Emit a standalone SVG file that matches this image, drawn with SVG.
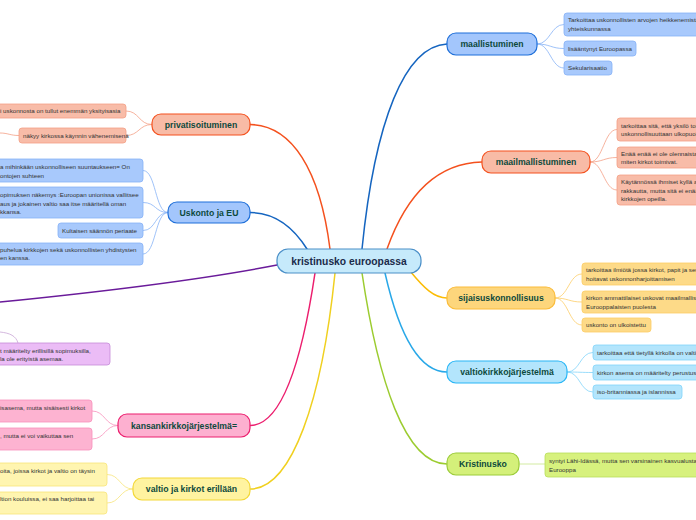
<svg xmlns="http://www.w3.org/2000/svg" width="696" height="520" viewBox="0 0 696 520">
<style>
.t{font-family:"Liberation Sans",Arial,sans-serif;font-size:6.2px;fill:#333}
.n{font-family:"Liberation Sans",Arial,sans-serif;font-size:8.7px;font-weight:bold;fill:#0d4a3c;text-anchor:middle}
.c{font-family:"Liberation Sans",Arial,sans-serif;font-size:10.3px;font-weight:bold;fill:#1a2b4a;text-anchor:middle}
.main{fill:none;stroke-width:1.5;stroke-linecap:round}
.sub{fill:none;stroke-width:0.8}
.blue{fill:#a3c6fc;stroke:#1e6fd9;stroke-width:1.2}
.blueC{fill:#a8c9fc;stroke:#86b2f6;stroke-width:0.8}
.sal{fill:#f8bba6;stroke:#f4511e;stroke-width:1.2}
.salC{fill:#f8bca8;stroke:#f4a085;stroke-width:0.8}
.yel{fill:#fdd67c;stroke:#fbbc3a;stroke-width:1.2}
.yelC{fill:#fdda88;stroke:#fccd66;stroke-width:0.8}
.cy{fill:#b3e5fc;stroke:#29b6f6;stroke-width:1.2}
.cyC{fill:#b3e5fc;stroke:#81d4fa;stroke-width:0.8}
.gr{fill:#d4f07a;stroke:#9ccc3a;stroke-width:1.2}
.grC{fill:#d7f17e;stroke:#b8de5a;stroke-width:0.8}
.pu{fill:#ebbcf6;stroke:#c58ad8;stroke-width:0.8}
.pk{fill:#fdb0d0;stroke:#ec1e6e;stroke-width:1.2}
.pkC{fill:#fdb3d1;stroke:#f790bb;stroke-width:0.8}
.ly{fill:#fff3a0;stroke:#f3d838;stroke-width:1.2}
.lyC{fill:#fff5b0;stroke:#f8e57a;stroke-width:0.8}
</style>
<rect width="696" height="520" fill="#ffffff"/>
<g id="connectors">
<path class="main" stroke="#1565c0" d="M362,249 C375,120 405,46 447,44"/>
<path class="main" stroke="#f4511e" d="M387,249 C408,190 440,163 482,162"/>
<path class="main" stroke="#fbbc05" d="M410,271 C424,288 434,298 447,298"/>
<path class="main" stroke="#29a8e8" d="M385,273 C398,330 418,372 447,372"/>
<path class="main" stroke="#9ccc30" d="M362,273 C378,380 405,464 447,464"/>
<path class="main" stroke="#f4511e" d="M330,249 C320,170 292,125 250,124.5"/>
<path class="main" stroke="#1565c0" d="M307,249 C292,225 272,212.5 250,212.5"/>
<path class="main" stroke="#6a1b9a" d="M277,265 C200,280 100,292 0,302"/>
<path class="main" stroke="#ec1e6e" d="M315,273 C302,360 282,425.5 250,425.5"/>
<path class="main" stroke="#f0d020" d="M335,273 C322,400 292,489 250,489"/>
<g stroke="#86b2f6" class="sub">
<path d="M537,44 C550,44 551,24.5 564,24.5"/>
<path d="M537,44 C550,44 551,48.5 564,48.5"/>
<path d="M537,44 C550,44 551,68 564,68"/>
<path d="M168,212.5 C155,212.5 156,170.5 143,170.5"/>
<path d="M168,212.5 C155,212.5 156,202.5 143,202.5"/>
<path d="M168,212.5 C155,212.5 156,230.5 143,230.5"/>
<path d="M168,212.5 C155,212.5 156,254 143,254"/>
</g>
<g stroke="#f4a085" class="sub">
<path d="M590,162 C603,162 604,129.5 617,129.5"/>
<path d="M590,162 C603,162 604,157.5 617,157.5"/>
<path d="M590,162 C603,162 604,190 617,190"/>
<path d="M152,124.5 C139,124.5 139,111 126,111"/>
<path d="M152,124.5 C139,124.5 139,135.5 126,135.5"/>
<path d="M19,135.5 C10,135.5 8,133 0,133"/>
</g>
<g stroke="#fccd66" class="sub">
<path d="M555,298 C568,298 569,274 582,274"/>
<path d="M555,298 C568,298 569,302 582,302"/>
<path d="M555,298 C568,298 569,325 582,325"/>
</g>
<g stroke="#81d4fa" class="sub">
<path d="M567,372 C580,372 580,352.5 593,352.5"/>
<path d="M567,372 C580,372 580,372.5 593,372.5"/>
<path d="M567,372 C580,372 580,392 593,392"/>
</g>
<path class="sub" stroke="#c8e68a" d="M519,464 L545,464"/>
<path class="sub" stroke="#c9a6d6" d="M0,332 C10,333 16,336 18,343"/>
<g stroke="#f790bb" class="sub">
<path d="M118,425.5 C105,425.5 105,411 92,411"/>
<path d="M118,425.5 C105,425.5 105,439 92,439"/>
</g>
<g stroke="#f8e57a" class="sub">
<path d="M133,489 C120,489 120,474.5 107,474.5"/>
<path d="M133,489 C120,489 120,503 107,503"/>
</g>
</g>
<g id="center">
<rect x="277" y="249" width="144" height="24" rx="11" fill="#c6eafb" stroke="#4a8fc8" stroke-width="1.2"/>
<text class="c" x="349" y="264.5">kristinusko euroopassa</text>
</g>
<g id="maallistuminen">
<rect class="blue" x="447" y="33" width="90" height="22" rx="9"/>
<text class="n" x="492" y="47">maallistuminen</text>
</g>
<g id="maallistuminen-1">
<rect class="blueC" x="564" y="13" width="200" height="23" rx="3"/>
<text class="t" x="568" y="22">Tarkoittaa uskonnollisten arvojen heikkenemistä</text>
<text class="t" x="568" y="31">yhteiskunnassa</text>
</g>
<g id="maallistuminen-2">
<rect class="blueC" x="564" y="41" width="72" height="15" rx="3"/>
<text class="t" x="568" y="50.8">lisääntynyt Euroopassa</text>
</g>
<g id="maallistuminen-3">
<rect class="blueC" x="564" y="61" width="48" height="14" rx="3"/>
<text class="t" x="568" y="70.3">Sekularisaatio</text>
</g>
<g id="maailmallistuminen">
<rect class="sal" x="482" y="151" width="108" height="22" rx="9"/>
<text class="n" x="536" y="165">maailmallistuminen</text>
</g>
<g id="maailmallistuminen-1">
<rect class="salC" x="617" y="118" width="200" height="23" rx="3"/>
<text class="t" x="621" y="127.5">tarkoittaa sitä, että yksilö toteuttaa</text>
<text class="t" x="621" y="136">uskonnollisuuttaan ulkopuolella</text>
</g>
<g id="maailmallistuminen-2">
<rect class="salC" x="617" y="147" width="200" height="21" rx="3"/>
<text class="t" x="621" y="155.5">Enää enää ei ole olennaista</text>
<text class="t" x="621" y="164">miten kirkot toimivat.</text>
</g>
<g id="maailmallistuminen-3">
<rect class="salC" x="617" y="175" width="200" height="30" rx="3"/>
<text class="t" x="621" y="184">Käytännössä ihmiset kyllä arvostavat</text>
<text class="t" x="621" y="192.5">rakkautta, mutta sitä ei enää</text>
<text class="t" x="621" y="201">kirkkojen opeilla.</text>
</g>
<g id="sijaisuskonnollisuus">
<rect class="yel" x="447" y="287" width="108" height="22" rx="9"/>
<text class="n" x="501" y="301">sijaisuskonnollisuus</text>
</g>
<g id="sijaisuskonnollisuus-1">
<rect class="yelC" x="582" y="263" width="200" height="22" rx="3"/>
<text class="t" x="586" y="271.5">tarkoittaa ilmiötä jossa kirkot, papit ja seurakunnat</text>
<text class="t" x="586" y="281">hoitavat uskonnonharjoittamisen</text>
</g>
<g id="sijaisuskonnollisuus-2">
<rect class="yelC" x="582" y="291" width="200" height="22" rx="3"/>
<text class="t" x="586" y="299.5">kirkon ammattilaiset uskovat maailmallisten</text>
<text class="t" x="586" y="309">Eurooppalaisten puolesta</text>
</g>
<g id="sijaisuskonnollisuus-3">
<rect class="yelC" x="582" y="318" width="69" height="14" rx="3"/>
<text class="t" x="586" y="327.3">uskonto on ulkoistettu</text>
</g>
<g id="valtiokirkkojarjestelma">
<rect class="cy" x="447" y="361" width="120" height="22" rx="9"/>
<text class="n" x="507" y="375">valtiokirkkojärjestelmä</text>
</g>
<g id="valtiokirkko-1">
<rect class="cyC" x="593" y="345" width="200" height="15" rx="3"/>
<text class="t" x="597" y="354.8">tarkoittaa että tietyllä kirkolla on valtion</text>
</g>
<g id="valtiokirkko-2">
<rect class="cyC" x="593" y="365" width="200" height="15" rx="3"/>
<text class="t" x="597" y="374.8">kirkon asema on määritelty perustuslaissa</text>
</g>
<g id="valtiokirkko-3">
<rect class="cyC" x="593" y="385" width="89" height="14" rx="3"/>
<text class="t" x="597" y="394.3">iso-britanniassa ja islannissa</text>
</g>
<g id="kristinusko">
<rect class="gr" x="447" y="453" width="72" height="22" rx="9"/>
<text class="n" x="483" y="467">Kristinusko</text>
</g>
<g id="kristinusko-1">
<rect class="grC" x="545" y="453" width="200" height="24" rx="3"/>
<text class="t" x="549" y="463">syntyi Lähi-Idässä, mutta sen varsinainen kasvualusta oli</text>
<text class="t" x="549" y="472">Eurooppa</text>
</g>
<g id="privatisoituminen">
<rect class="sal" x="152" y="114" width="98" height="21" rx="9"/>
<text class="n" x="201" y="127.5">privatisoituminen</text>
</g>
<g id="privatisoituminen-1">
<rect class="salC" x="-20" y="104" width="146" height="14" rx="3"/>
<text class="t" x="0" y="113.3">i uskonnosta on tullut enemmän yksityisasia</text>
</g>
<g id="privatisoituminen-2">
<rect class="salC" x="19" y="128" width="107" height="15" rx="3"/>
<text class="t" x="23" y="137.8">näkyy kirkossa käynnin vähenemisenä</text>
</g>
<g id="uskonto-ja-eu">
<rect class="blue" x="168" y="202" width="82" height="21" rx="9"/>
<text class="n" x="209" y="215.5">Uskonto ja EU</text>
</g>
<g id="eu-1">
<rect class="blueC" x="-20" y="159" width="163" height="23" rx="3"/>
<text class="t" x="0" y="169">a mihinkään uskonnolliseen suuntaukseen= On</text>
<text class="t" x="0" y="177.5">ontojen suhteen</text>
</g>
<g id="eu-2">
<rect class="blueC" x="-20" y="187" width="163" height="31" rx="3"/>
<text class="t" x="0" y="197">opimuksen näkemys :Euroopan unionissa vallitsee</text>
<text class="t" x="0" y="205.5">aus ja jokainen valtio saa itse määritellä oman</text>
<text class="t" x="0" y="214">kkansa.</text>
</g>
<g id="eu-3">
<rect class="blueC" x="58" y="223" width="85" height="15" rx="3"/>
<text class="t" x="62" y="232.8">Kultaisen säännön periaate</text>
</g>
<g id="eu-4">
<rect class="blueC" x="-20" y="243" width="163" height="22" rx="3"/>
<text class="t" x="0" y="251.8">puhelua kirkkojen sekä uskonnollisten yhdistysten</text>
<text class="t" x="0" y="260.3">en kanssa.</text>
</g>
<g id="purple-child">
<rect class="pu" x="-20" y="343" width="130" height="22" rx="3"/>
<text class="t" x="0" y="352.5">t määritelty erillisillä sopimuksilla,</text>
<text class="t" x="0" y="361">la ole erityistä asemaa.</text>
</g>
<g id="kansankirkkojarjestelma">
<rect class="pk" x="118" y="414" width="132" height="23" rx="9"/>
<text class="n" x="184" y="428.5">kansankirkkojärjestelmä=</text>
</g>
<g id="kansankirkko-1">
<rect class="pkC" x="-20" y="400" width="112" height="22" rx="3"/>
<text class="t" x="0" y="410">isasema, mutta sisäisesti kirkot</text>
</g>
<g id="kansankirkko-2">
<rect class="pkC" x="-20" y="428" width="112" height="22" rx="3"/>
<text class="t" x="0" y="438">, mutta ei voi vaikuttaa sen</text>
</g>
<g id="valtio-ja-kirkot-erillaan">
<rect class="ly" x="133" y="478" width="117" height="22" rx="9"/>
<text class="n" x="191.5" y="492">valtio ja kirkot erillään</text>
</g>
<g id="erillaan-1">
<rect class="lyC" x="-20" y="463" width="127" height="23" rx="3"/>
<text class="t" x="0" y="473">oita, joissa kirkot ja valtio on täysin</text>
</g>
<g id="erillaan-2">
<rect class="lyC" x="-20" y="492" width="127" height="22" rx="3"/>
<text class="t" x="0" y="500.5">ltion kouluissa, ei saa harjoittaa tai</text>
</g>
</svg>
